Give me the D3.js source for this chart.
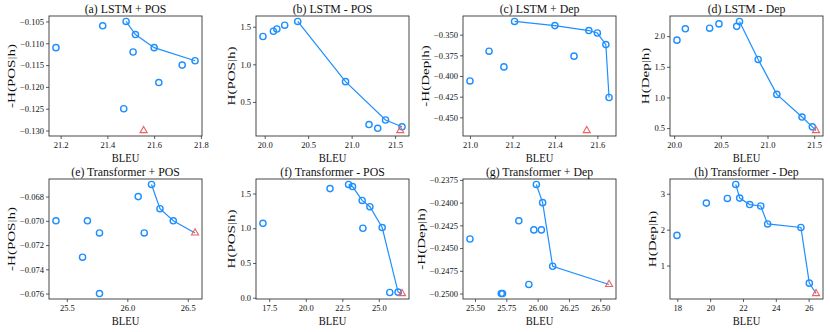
<!DOCTYPE html>
<html>
<head>
<meta charset="utf-8">
<script src="https://cdn.jsdelivr.net/npm/d3@7"></script>
<style>
  body { margin: 0; background: #fff; }
  text { font-family: "Liberation Serif", "Times New Roman", serif; fill: #111; }
</style>
</head>
<body>
<svg id="chart" width="830" height="332"></svg>
<script>
// titles + y axis labels of the 8 panels
var titles = ["(a) LSTM + POS", "(b) LSTM - POS", "(c) LSTM + Dep", "(d) LSTM - Dep",
              "(e) Transformer + POS", "(f) Transformer - POS", "(g) Transformer + Dep", "(h) Transformer - Dep"];
var yLabels = ["-H(POS|h)", "H(POS|h)", "-H(Dep|h)", "H(Dep|h)",
               "-H(POS|h)", "H(POS|h)", "-H(Dep|h)", "H(Dep|h)"];

// (a) LSTM + POS
var bleuA = [21.18, 21.38, 21.48, 21.52, 21.51, 21.47, 21.60, 21.62, 21.72, 21.775];
var entA  = [-0.111, -0.106, -0.105, -0.108, -0.112, -0.125, -0.111, -0.119, -0.115, -0.114];
var baseA = [21.555, -0.130];
// (b) LSTM - POS
var bleuB = [19.98, 20.10, 20.14, 20.23, 20.38, 20.93, 21.20, 21.30, 21.39, 21.58];
var entB  = [1.37, 1.44, 1.47, 1.52, 1.57, 0.77, 0.20, 0.15, 0.26, 0.17];
var baseB = [21.56, 0.12];
// (c) LSTM + Dep
var bleuC = [21.00, 21.09, 21.16, 21.21, 21.40, 21.49, 21.56, 21.60, 21.64, 21.655];
var entC  = [-0.406, -0.370, -0.389, -0.334, -0.339, -0.376, -0.345, -0.348, -0.362, -0.426];
var baseC = [21.55, -0.466];
// (d) LSTM - Dep
var bleuD = [20.03, 20.12, 20.38, 20.48, 20.67, 20.70, 20.90, 21.10, 21.37, 21.48];
var entD  = [1.935, 2.12, 2.13, 2.20, 2.16, 2.24, 1.62, 1.05, 0.68, 0.52];
var baseD = [21.52, 0.46];
// (e) Transformer + POS
var bleuE = [25.41, 25.67, 25.77, 25.63, 25.77, 26.09, 26.14, 26.20, 26.27, 26.38];
var entE  = [-0.070, -0.070, -0.071, -0.073, -0.076, -0.068, -0.071, -0.067, -0.069, -0.070];
var baseE = [26.56, -0.071];
// (f) Transformer - POS
var bleuF = [17.07, 21.66, 22.93, 23.20, 23.86, 23.91, 24.39, 25.23, 25.75, 26.32];
var entF  = [1.07, 1.57, 1.63, 1.60, 1.40, 1.00, 1.31, 1.01, 0.075, 0.08];
var baseF = [26.59, 0.06];
// (g) Transformer + Dep
var bleuG = [25.46, 25.85, 25.97, 26.03, 25.99, 26.04, 26.12, 25.93, 25.71, 25.72];
var entG  = [-0.244, -0.242, -0.243, -0.243, -0.238, -0.240, -0.247, -0.249, -0.250, -0.250];
var baseG = [26.57, -0.249];
// (h) Transformer - Dep
var bleuH = [17.98, 19.77, 21.05, 21.56, 21.80, 22.41, 23.08, 23.50, 25.53, 26.04];
var entH  = [1.84, 2.74, 2.87, 3.26, 2.88, 2.70, 2.66, 2.16, 2.06, 0.51];
var baseH = [26.45, 0.22];

// tick labels
var xTicksA = ["21.2", "21.4", "21.6", "21.8"];
var yTicksA = ["−0.130", "−0.125", "−0.120", "−0.115", "−0.110", "−0.105"];
var xTicksB = ["20.0", "20.5", "21.0", "21.5"];
var yTicksB = ["0.5", "1.0", "1.5"];
var xTicksC = ["21.0", "21.2", "21.4", "21.6"];
var yTicksC = ["−0.450", "−0.425", "−0.400", "−0.375", "−0.350"];
var xTicksD = ["20.0", "20.5", "21.0", "21.5"];
var yTicksD = ["0.5", "1.0", "1.5", "2.0"];
var xTicksE = ["25.5", "26.0", "26.5"];
var yTicksE = ["−0.076", "−0.074", "−0.072", "−0.070", "−0.068"];
var xTicksF = ["17.5", "20.0", "22.5", "25.0"];
var yTicksF = ["0.0", "0.5", "1.0", "1.5"];
var xTicksG = ["25.50", "25.75", "26.00", "26.25", "26.50"];
var yTicksG = ["−0.2500", "−0.2475", "−0.2450", "−0.2425", "−0.2400", "−0.2375"];
var xTicksH = ["18", "20", "22", "24", "26"];
var yTicksH = ["1", "2", "3"];

var panels = [
  [bleuA, entA, baseA, xTicksA, yTicksA],
  [bleuB, entB, baseB, xTicksB, yTicksB],
  [bleuC, entC, baseC, xTicksC, yTicksC],
  [bleuD, entD, baseD, xTicksD, yTicksD],
  [bleuE, entE, baseE, xTicksE, yTicksE],
  [bleuF, entF, baseF, xTicksF, yTicksF],
  [bleuG, entG, baseG, xTicksG, yTicksG],
  [bleuH, entH, baseH, xTicksH, yTicksH]
];

var blue = "#1e8fff", red = "#f0605c";
var lefts = [49, 256, 463, 670], tops = [16, 179];
var W = 153, H = 120;

var svg = d3.select("#chart");

// matplotlib style 5% margin
function pad(e) {
  var m = (e[1] - e[0]) * 0.05;
  return [e[0] - m, e[1] + m];
}
function num(s) { return +s.replace("−", "-"); }

panels.forEach(function (p, i) {
  var bleu = p[0], ent = p[1], base = p[2], xt = p[3], yt = p[4];
  var left = lefts[i % 4], top = tops[Math.floor(i / 4)];

  var pts = bleu.map(function (b, k) { return [b, ent[k]]; });
  var all = pts.concat([base]);

  var x = d3.scaleLinear().domain(pad(d3.extent(all, d => d[0]))).range([0, W]);
  var y = d3.scaleLinear().domain(pad(d3.extent(all, d => d[1]))).range([H, 0]);

  var g = svg.append("g").attr("transform", "translate(" + left + "," + top + ")");

  var gx = g.append("g")
    .attr("transform", "translate(0," + H + ")")
    .call(d3.axisBottom(x).tickValues(xt.map(num)).tickFormat((d, k) => xt[k])
      .tickSize(3).tickPadding(2.5).tickSizeOuter(0));
  var gy = g.append("g")
    .call(d3.axisLeft(y).tickValues(yt.map(num)).tickFormat((d, k) => yt[k])
      .tickSize(3).tickPadding(2).tickSizeOuter(0));
  [gx, gy].forEach(function (a) {
    a.select(".domain").remove();
    a.selectAll("line").attr("stroke", "#333").attr("stroke-width", 0.8);
    a.selectAll("text").style("font-size", "8.5px")
      .style("font-family", '"Liberation Serif", serif').attr("fill", "#111");
  });

  // frame
  g.append("rect").attr("width", W).attr("height", H)
    .attr("fill", "none").attr("stroke", "#333").attr("stroke-width", 0.9);

  // pareto frontier (models not beaten on both BLEU and entropy)
  var front = all.filter(function (a) {
    return !all.some(function (b) {
      return b !== a && b[0] >= a[0] && b[1] >= a[1] && (b[0] > a[0] || b[1] > a[1]);
    });
  }).sort((a, b) => a[0] - b[0]);

  g.append("path")
    .datum(front)
    .attr("fill", "none")
    .attr("stroke", blue)
    .attr("stroke-width", 1.2)
    .attr("d", d3.line().x(d => x(d[0])).y(d => y(d[1])));

  g.selectAll("circle.pt")
    .data(pts)
    .join("circle")
    .attr("class", "pt")
    .attr("cx", d => x(d[0]))
    .attr("cy", d => y(d[1]))
    .attr("r", 3.1)
    .attr("fill", "none")
    .attr("stroke", blue)
    .attr("stroke-width", 1.4);

  g.append("path")
    .attr("d", d3.symbol().type(d3.symbolTriangle).size(22)())
    .attr("transform", "translate(" + x(base[0]) + "," + y(base[1]) + ")")
    .attr("fill", "none")
    .attr("stroke", red)
    .attr("stroke-width", 1.1);

  // title
  g.append("text")
    .attr("x", W / 2).attr("y", -3)
    .attr("text-anchor", "middle")
    .style("font-size", "11.8px")
    .text(titles[i]);

  // x label
  g.append("text")
    .attr("transform", "translate(" + (W / 2) + "," + (H + 25.5) + ") scale(0.78,1)")
    .attr("text-anchor", "middle")
    .style("font-size", "13.5px")
    .text("BLEU");

  // y label, left of the tick labels
  var bb = gy.node().getBBox();
  g.append("text")
    .attr("transform", "translate(" + (bb.x - 5) + "," + (H / 2) + ") scale(0.76,1) rotate(-90)")
    .attr("text-anchor", "middle")
    .style("font-size", "15px")
    .text(yLabels[i]);
});
</script>
</body>
</html>
